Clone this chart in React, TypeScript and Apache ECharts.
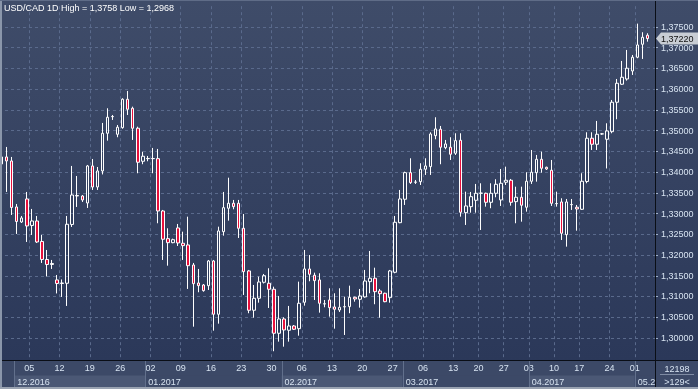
import React, { useEffect, useRef } from 'react';
import * as echarts from 'echarts';

const FONT = '"Liberation Sans", Arial, sans-serif';
const TITLE = 'USD/CAD 1D High = 1,3758 Low = 1,2968';
const LAST_PRICE = 1.3722;
const CORNER_TOP = '12198';
const CORNER_BOTTOM = '>129<';

const dates = [
  '2016-11-28','2016-11-29','2016-11-30','2016-12-01','2016-12-02','2016-12-04',
  '2016-12-05','2016-12-06','2016-12-07','2016-12-08','2016-12-09','2016-12-11',
  '2016-12-12','2016-12-13','2016-12-14','2016-12-15','2016-12-16','2016-12-18',
  '2016-12-19','2016-12-20','2016-12-21','2016-12-22','2016-12-23','2016-12-25',
  '2016-12-26','2016-12-27','2016-12-28','2016-12-29','2016-12-30','2017-01-01',
  '2017-01-02','2017-01-03','2017-01-04','2017-01-05','2017-01-06','2017-01-08',
  '2017-01-09','2017-01-10','2017-01-11','2017-01-12','2017-01-13','2017-01-15',
  '2017-01-16','2017-01-17','2017-01-18','2017-01-19','2017-01-20','2017-01-22',
  '2017-01-23','2017-01-24','2017-01-25','2017-01-26','2017-01-27','2017-01-29',
  '2017-01-30','2017-01-31','2017-02-01','2017-02-02','2017-02-03','2017-02-05',
  '2017-02-06','2017-02-07','2017-02-08','2017-02-09','2017-02-10','2017-02-12',
  '2017-02-13','2017-02-14','2017-02-15','2017-02-16','2017-02-17','2017-02-19',
  '2017-02-20','2017-02-21','2017-02-22','2017-02-23','2017-02-24','2017-02-26',
  '2017-02-27','2017-02-28','2017-03-01','2017-03-02','2017-03-03','2017-03-05',
  '2017-03-06','2017-03-07','2017-03-08','2017-03-09','2017-03-10','2017-03-12',
  '2017-03-13','2017-03-14','2017-03-15','2017-03-16','2017-03-17',
  '2017-03-20','2017-03-21','2017-03-22','2017-03-23','2017-03-24',
  '2017-03-27','2017-03-28','2017-03-29','2017-03-30','2017-03-31',
  '2017-04-03','2017-04-04','2017-04-05','2017-04-06','2017-04-07',
  '2017-04-10','2017-04-11','2017-04-12','2017-04-13','2017-04-14',
  '2017-04-17','2017-04-18','2017-04-19','2017-04-20','2017-04-21','2017-04-23',
  '2017-04-24','2017-04-25','2017-04-26','2017-04-27','2017-04-28',
  '2017-05-01','2017-05-02','2017-05-03','2017-05-04',
];

const open = [
  1.34196,1.34365,1.34268,1.33159,1.32797,1.33352,1.32713,1.32821,1.32327,1.31893,
  1.31772,1.31399,1.31314,1.31319,1.32737,1.33424,1.33424,1.33255,1.34148,1.33641,
  1.34027,1.34936,1.35336,1.34912,1.35071,1.35756,1.35539,1.35057,1.34261,1.34324,
  1.34328,1.34324,1.33062,1.32395,1.32298,1.32653,1.32284,1.32243,1.31760,1.31326,
  1.31278,1.31261,1.31857,1.30572,1.32563,1.33128,1.33248,1.33248,1.32645,1.31616,
  1.30668,1.30957,1.31343,1.31319,1.31174,1.30113,1.30458,1.30186,1.30289,1.30224,
  1.30861,1.31664,1.31512,1.31399,1.30820,1.30916,1.30748,1.30675,1.30755,1.30755,
  1.30981,1.30933,1.30989,1.31358,1.31440,1.31133,1.31078,1.30972,1.31584,1.32780,
  1.33345,1.33986,1.33755,1.33769,1.34068,1.34131,1.34878,1.35033,1.34589,1.34599,
  1.34454,1.34767,1.33021,1.33166,1.33320,1.33489,1.33489,1.33272,1.33489,1.33328,
  1.33755,1.33803,1.33287,1.33393,1.33152,1.33779,1.33986,1.34309,1.34116,1.34044,
  1.33238,1.33280,1.32491,1.33214,1.33152,1.33103,1.33774,1.34816,1.34671,1.34919,
  1.34791,1.34975,1.35684,1.36118,1.36245,1.36438,1.36769,1.37082,1.37300,
];

const close = [
  1.34365,1.34268,1.33147,1.32809,1.32894,1.32701,1.32821,1.32315,1.31893,1.31772,
  1.31796,1.31314,1.31326,1.32742,1.33448,1.33436,1.33328,1.34148,1.33641,1.34027,
  1.34936,1.35322,1.35341,1.35081,1.35756,1.35515,1.35057,1.34237,1.34382,1.34328,
  1.34324,1.33062,1.32380,1.32298,1.32370,1.32291,1.32226,1.31743,1.31309,1.31261,
  1.31141,1.31857,1.30572,1.32580,1.33142,1.33248,1.33166,1.32645,1.31599,1.30668,
  1.30957,1.31350,1.31502,1.31174,1.30113,1.30458,1.30193,1.30289,1.30210,1.30837,
  1.31664,1.31536,1.31382,1.30837,1.30825,1.30731,1.30692,1.30740,1.30750,1.30981,
  1.30940,1.31013,1.31374,1.31440,1.31116,1.31068,1.30875,1.31616,1.32790,1.33352,
  1.33986,1.33745,1.33760,1.34068,1.34148,1.34919,1.35040,1.34599,1.34678,1.34430,
  1.34758,1.33031,1.33183,1.33407,1.33489,1.33494,1.33272,1.33489,1.33706,1.33730,
  1.33803,1.33272,1.33393,1.33200,1.33779,1.33996,1.34309,1.34092,1.34075,1.33248,
  1.33242,1.32525,1.33280,1.33218,1.33111,1.33779,1.34816,1.34671,1.34912,1.34922,
  1.34992,1.35684,1.36142,1.36287,1.36504,1.36769,1.37065,1.37251,1.37220,
];

const low = [
  1.34148,1.33521,1.32966,1.32508,1.32773,1.32315,1.32484,1.32291,1.31809,1.31483,
  1.31664,1.31073,1.30989,1.30772,1.32677,1.33159,1.33280,1.33135,1.33569,1.33569,
  1.33943,1.34758,1.35257,1.34840,1.35047,1.35377,1.34775,1.33972,1.34189,1.34261,
  1.33972,1.32766,1.31881,1.31743,1.32284,1.32218,1.31881,1.31182,1.30272,1.31102,
  1.31116,1.31157,1.30176,1.30345,1.32467,1.32829,1.33103,1.32411,1.31037,1.30596,
  1.30490,1.30851,1.31314,1.30723,1.29680,1.29911,1.29790,1.29911,1.30193,1.30055,
  1.30779,1.31367,1.30916,1.30610,1.30740,1.30514,1.30224,1.30627,1.30072,1.30596,
  1.30875,1.30731,1.30972,1.31078,1.30813,1.30490,1.30861,1.30851,1.31560,1.32766,
  1.33207,1.33714,1.33714,1.33689,1.33931,1.33931,1.34791,1.34189,1.34550,1.34292,
  1.34413,1.32925,1.32725,1.33021,1.33021,1.32604,1.33166,1.33128,1.33393,1.33183,
  1.33689,1.33190,1.32766,1.32804,1.33046,1.33714,1.33769,1.33986,1.34051,1.33183,
  1.33166,1.32363,1.32202,1.33087,1.32587,1.33087,1.33730,1.34533,1.34533,1.34900,
  1.34087,1.34936,1.35274,1.36101,1.36205,1.36342,1.36745,1.36728,1.37145,
];

const high = [
  1.34413,1.34606,1.34365,1.33231,1.32942,1.33521,1.33111,1.32942,1.32484,1.32122,
  1.31881,1.31519,1.31411,1.32942,1.34148,1.33906,1.33448,1.34172,1.34316,1.34123,
  1.35185,1.35539,1.35377,1.35136,1.35780,1.35956,1.35578,1.35095,1.34492,1.34389,
  1.34582,1.34558,1.33087,1.32645,1.32395,1.32749,1.32563,1.32925,1.31809,1.31664,
  1.31302,1.31881,1.31881,1.32684,1.33521,1.33865,1.33328,1.33328,1.32990,1.31640,
  1.31278,1.31478,1.31543,1.31681,1.31237,1.31013,1.30499,1.30772,1.30313,1.31358,
  1.32122,1.32001,1.31575,1.31560,1.30916,1.31198,1.31078,1.31198,1.30996,1.31261,
  1.30996,1.31182,1.31640,1.32098,1.31695,1.31182,1.31092,1.31640,1.32942,1.33569,
  1.34010,1.34333,1.33810,1.34213,1.34333,1.34960,1.35322,1.35112,1.34775,1.34840,
  1.34936,1.34936,1.33528,1.33521,1.33714,1.33730,1.33504,1.33730,1.33827,1.34075,
  1.34131,1.33834,1.33648,1.33648,1.33996,1.34533,1.34413,1.34492,1.34131,1.34292,
  1.33528,1.33369,1.33352,1.33352,1.33207,1.33972,1.34960,1.34960,1.35233,1.34940,
  1.35177,1.35739,1.36245,1.36680,1.36945,1.36824,1.37580,1.37372,1.37348,
];

const LABEL_COLOR = '#d7e3f1';
const GRID_COLOR = '#5a6a8c';

const isMonday = (d: string) => new Date(d + 'T00:00:00Z').getUTCDay() === 1;
const weekStart = (i: number, d: string) => i > 0 && isMonday(d);
const fmtPrice = (v: number) => v.toFixed(5).replace('.', ',');

export default function App() {
  const ref = useRef<HTMLDivElement>(null);

  useEffect(() => {
    document.body.style.margin = '0';
    const el = ref.current!;
    const chart = echarts.init(el, null, { renderer: 'svg', width: 698, height: 389 });
    const candles = open.map((o, i) => [o, close[i], low[i], high[i]]);

    chart.setOption({
      animation: false,
      backgroundColor: 'transparent',
      title: {
        text: TITLE,
        left: 4,
        top: 3,
        padding: 0,
        textStyle: { color: '#ffffff', fontSize: 9, fontWeight: 'normal', fontFamily: FONT },
      },
      grid: {
        left: -1,
        right: 43,
        top: 6.2,
        bottom: 30.3,
        containLabel: false,
        outerBoundsMode: 'none',
      },
      xAxis: {
        type: 'category',
        data: dates,
        boundaryGap: true,
        axisLine: { show: false },
        axisTick: { show: false },
        axisLabel: {
          interval: (i: number, v: string) => weekStart(i, v),
          formatter: (v: string) => v.slice(8, 10),
          color: LABEL_COLOR,
          fontSize: 9,
          fontFamily: FONT,
          margin: 5,
          padding: [0, 5, 0, 0],
        },
        splitLine: {
          show: true,
          interval: (i: number, v: string) => weekStart(i, v),
          lineStyle: { color: GRID_COLOR, type: [3, 3], width: 1 },
        },
      },
      yAxis: {
        type: 'value',
        position: 'right',
        min: 1.295,
        max: 1.38,
        interval: 0.005,
        axisLine: { show: false },
        axisTick: { show: true, length: 3, lineStyle: { color: '#9fb0c8' } },
        axisLabel: {
          showMinLabel: false,
          showMaxLabel: false,
          margin: 6,
          color: LABEL_COLOR,
          fontSize: 9,
          fontFamily: FONT,
          formatter: (v: number) => fmtPrice(v),
        },
        splitLine: {
          show: true,
          showMinLine: false,
          showMaxLine: false,
          lineStyle: { color: GRID_COLOR, type: [3, 3], width: 1 },
        },
      },
      series: [
        {
          type: 'candlestick',
          data: candles,
          barWidth: 3,
          itemStyle: {
            color: 'rgba(0,0,0,0)',
            color0: '#e8103c',
            borderColor: '#ffffff',
            borderColor0: '#ffffff',
            borderWidth: 1,
          },
        },
      ],
    });

    // overlay graphics positioned through the chart's own scales
    const px = (i: number) => chart.convertToPixel({ xAxisIndex: 0 }, dates[i]) as number;
    const slot = px(1) - px(0);
    const plotRight = 655;

    const months: { key: string; start: number }[] = [];
    dates.forEach((d, i) => {
      const key = d.slice(0, 7);
      if (!months.length || months[months.length - 1].key !== key) months.push({ key, start: i });
    });

    const elements: any[] = [];
    elements.push({
      type: 'rect', silent: true, z: -10,
      shape: { x: 0, y: 0, width: 698, height: 360 },
      style: {
        fill: new echarts.graphic.LinearGradient(0, 0, 0, 1, [
          { offset: 0, color: '#3f4c69' },
          { offset: 1, color: '#2b3859' },
        ]),
      },
    });
    elements.push({
      type: 'rect', silent: true, z: -10,
      shape: { x: 0, y: 360, width: 698, height: 29 },
      style: { fill: '#3c4967' },
    });

    let shown = 0;
    months.forEach((m, idx) => {
      if (m.start === 0) return;
      const x0 = px(m.start) - slot / 2;
      const next = months[idx + 1];
      const x1 = next ? px(next.start) - slot / 2 : plotRight;
      const light = shown % 2 === 0;
      shown++;
      elements.push({
        type: 'rect', silent: true, z: 5,
        shape: { x: x0, y: 375.5, width: x1 - x0, height: 11.5 },
        style: { fill: light ? '#4b5875' : '#3c4967' },
      });
      elements.push({
        type: 'line', silent: true, z: 5,
        shape: { x1: Math.round(x0) + 0.5, y1: 361, x2: Math.round(x0) + 0.5, y2: 387 },
        style: { stroke: '#62708c', lineWidth: 1 },
      });
      elements.push({
        type: 'text', silent: true, z: 6,
        x: x0 + 3, y: 381.5,
        style: {
          text: `${m.key.slice(5, 7)}.${m.key.slice(0, 4)}`,
          fill: LABEL_COLOR, font: `9px ${FONT}`,
          textAlign: 'left', textVerticalAlign: 'middle',
          width: Math.max(8, x1 - x0),
          overflow: 'truncate',
          ellipsis: '',
        },
      });
    });

    // corner box
    elements.push({
      type: 'rect', silent: true, z: 8,
      shape: { x: 655, y: 360, width: 43, height: 29 },
      style: { fill: '#3c4967' },
    });
    elements.push({
      type: 'text', silent: true, z: 9, x: 677, y: 368.5,
      style: { text: CORNER_TOP, fill: LABEL_COLOR, font: `9px ${FONT}`, textAlign: 'center', textVerticalAlign: 'middle' },
    });
    elements.push({
      type: 'line', silent: true, z: 9,
      shape: { x1: 660, y1: 374.5, x2: 694, y2: 374.5 },
      style: { stroke: '#7f8ba3', lineWidth: 1 },
    });
    elements.push({
      type: 'text', silent: true, z: 9, x: 677, y: 381.5,
      style: { text: CORNER_BOTTOM, fill: LABEL_COLOR, font: `9px ${FONT}`, textAlign: 'center', textVerticalAlign: 'middle' },
    });

    // separator lines
    elements.push({
      type: 'line', silent: true, z: 9,
      shape: { x1: 0, y1: 360.5, x2: 698, y2: 360.5 },
      style: { stroke: '#0a0e16', lineWidth: 1 },
    });
    elements.push({
      type: 'line', silent: true, z: 9,
      shape: { x1: 655.5, y1: 0, x2: 655.5, y2: 389 },
      style: { stroke: '#0a0e16', lineWidth: 1 },
    });

    // frame
    elements.push({ type: 'rect', silent: true, z: 10, shape: { x: 0, y: 0, width: 2, height: 389 }, style: { fill: '#8a96aa' } });
    elements.push({ type: 'rect', silent: true, z: 10, shape: { x: 0, y: 387, width: 698, height: 2 }, style: { fill: '#9aa3b2' } });
    elements.push({ type: 'rect', silent: true, z: 10, shape: { x: 0, y: 0, width: 698, height: 1 }, style: { fill: '#5f6c87' } });

    // last price tag
    const py = chart.convertToPixel({ yAxisIndex: 0 }, LAST_PRICE) as number;
    elements.push({
      type: 'polygon', silent: true, z: 10,
      shape: { points: [[656, py], [661, py - 6], [698, py - 6], [698, py + 6], [661, py + 6]] },
      style: { fill: '#c8cdd4' },
    });
    elements.push({
      type: 'text', silent: true, z: 11, x: 661, y: py,
      style: { text: fmtPrice(LAST_PRICE), fill: '#111111', font: `9px ${FONT}`, textAlign: 'left', textVerticalAlign: 'middle' },
    });

    chart.setOption({ graphic: { elements } });

    return () => chart.dispose();
  }, []);

  return (
    <div
      ref={ref}
      style={{ position: 'fixed', left: 0, top: 0, width: 698, height: 389 }}
    />
  );
}
